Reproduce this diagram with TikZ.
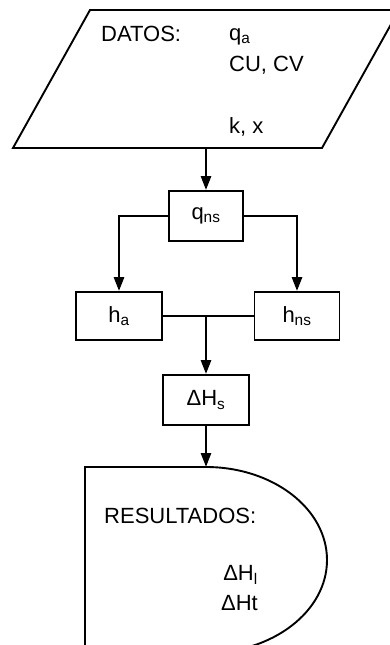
\documentclass[tikz,border=0pt]{standalone}
\usepackage{fontspec}
\setmainfont{Liberation Sans}
\usetikzlibrary{arrows.meta}
\begin{document}
\begin{tikzpicture}[x=1pt,y=-1pt,
  shapeline/.style={line width=1.9pt},
  conn/.style={line width=2.7pt},
  arr/.style={conn,-{Triangle[width=10pt,length=14pt]}},
  box/.style={shapeline,draw,rectangle,inner sep=0pt},
  txt/.style={font=\fontsize{22}{26}\selectfont,inner sep=0pt}]
\clip (0,0) rectangle (390,645);
% input parallelogram
\draw[shapeline] (13,148) -- (322,148) -- (399,10) -- (90,10) -- cycle;
\node[txt,anchor=base west] (datos) at (101,41) {DATOS:};
\node[txt,anchor=base west] (qa) at (229,40) {q\textsubscript{a}};
\node[txt,anchor=base west] (cucv) at (229,71) {CU, CV};
\node[txt,anchor=base west] (kx) at (229,133) {k, x};
\coordinate (dat) at (206,148);
% boxes
\node[box,minimum width=74pt,minimum height=50pt] (qns) at (206,216) {};
\node[txt] at (qns) {q\textsubscript{ns}};
\node[box,minimum width=86pt,minimum height=48pt] (ha) at (119,316) {};
\node[txt] at (ha) {h\textsubscript{a}};
\node[box,minimum width=85pt,minimum height=48pt] (hns) at (297,316) {};
\node[txt] at (hns) {h\textsubscript{ns}};
\node[box,minimum width=86pt,minimum height=50pt] (dhs) at (206,400) {};
\node[txt] at (dhs) {ΔH\textsubscript{s}};
\coordinate (jn) at (206,316);
\coordinate (res) at (206,467);
% output shape
\draw[shapeline] (85,660) -- (85,467) -- (res)
  arc[start angle=-90,end angle=90,x radius=121,y radius=93];
\node[txt,anchor=base west] (resl) at (104,523) {RESULTADOS:};
\node[txt,anchor=base east] (dhl) at (258,580) {ΔH\textsubscript{l}};
\node[txt,anchor=base east] (dht) at (258,610) {ΔHt};
% connectors
\draw[arr] (dat) -- (qns.north);
\draw[arr] (qns.west) -| (ha.north);
\draw[arr] (qns.east) -| (hns.north);
\draw[conn] (ha.east) -- (hns.west);
\draw[arr] (jn) -- (dhs.north);
\draw[arr] (dhs.south) -- (res);
\end{tikzpicture}
\end{document}
